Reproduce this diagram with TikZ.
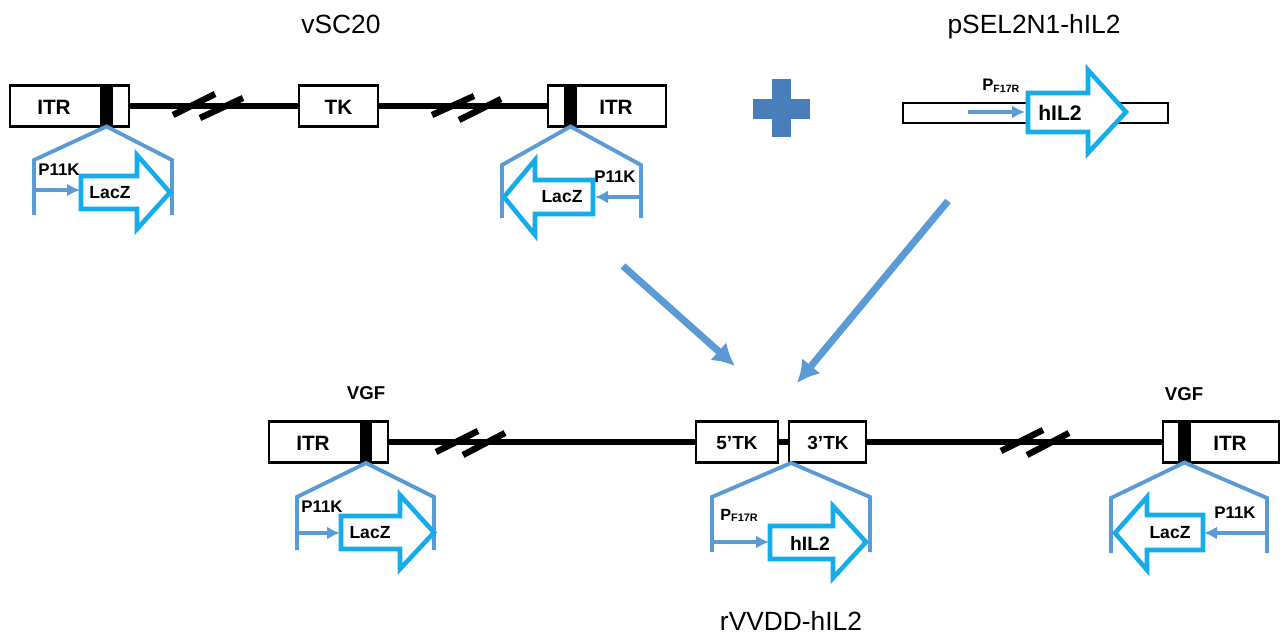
\documentclass[tikz,border=0pt]{standalone}
\usepackage{fontspec}
\setmainfont{Liberation Sans}
\usetikzlibrary{arrows.meta}
\usetikzlibrary{positioning}
\definecolor{hatblue}{RGB}{91,155,213}
\definecolor{genecyan}{RGB}{20,172,235}
\definecolor{plusblue}{RGB}{74,126,187}

\begin{document}
\begin{tikzpicture}[x=0.02cm,y=-0.02cm,
  box/.style={draw=black,line width=1.2pt,fill=white,inner sep=0pt,minimum height=0.82cm},
  dna/.style={line width=3pt},
  brk/.style={line width=3.6pt},
  hat/.style={draw=hatblue,line width=2.2pt,line join=miter},
  prom/.style={draw=hatblue,line width=2pt,-{Latex[length=0.26cm,width=0.26cm]}},
  gene/.style={draw=genecyan,line width=2.6pt,fill=white,line join=miter},
  big/.style={draw=hatblue,line width=4pt,-{Latex[length=0.44cm,width=0.48cm]}},
  lbl/.style={inner sep=0pt,font=\bfseries\fontsize{9.6}{10}\selectfont},
  glbl/.style={inner sep=0pt,font=\bfseries\fontsize{10}{11}\selectfont},
  boxlbl/.style={inner sep=0pt,font=\bfseries\fontsize{11.8}{13}\selectfont},
  title/.style={inner sep=0pt,anchor=base,font=\fontsize{15}{17}\selectfont}]
\useasboundingbox (0,0) rectangle (1282,635);

% titles
\node[title] (tvsc) at (341,34) {vSC20};
\node[title] (tpsel) at (1034,34) {pSEL2N1-hIL2};
\node[title] (trvv) at (791,630) {rVVDD-hIL2};

% vSC20
\node[box,minimum width=2.38cm] (itrA) at (69.5,106) {};
\node[box,minimum width=1.58cm] (tkA) at (338.5,106) {};
\node[box,minimum width=2.36cm] (itrB) at (607,106) {};
\draw[dna] (itrA.east) -- (tkA.west);
\draw[dna] (tkA.east) -- (itrB.west);
\fill[black] (100,86.5) rectangle (113,125.5);
\fill[black] (564,86.5) rectangle (577,125.5);
\draw[brk] (173,115) -- (215,94);
\draw[brk] (200,118) -- (243,98);
\draw[brk] (432,115) -- (474,96);
\draw[brk] (459,120) -- (501,99);
\node[boxlbl] (itrAt) at (54,107) {ITR};
\node[boxlbl] (tkAt) at (338.5,107) {TK};
\node[boxlbl] (itrBt) at (616,107) {ITR};

% LacZ cassettes, top
\draw[hat] (34,215) -- (34,160) -- (106.5,126.5) -- (172,160) -- (172,215);
\draw[gene] (81,176) -- (137,176) -- (137,155) -- (170,192.5) -- (137,229) -- (137,209) -- (81,209) -- cycle;
\draw[prom] (34,190) -- (80,190);
\node[lbl] (pA) at (59,170) {P11K};
\node[glbl] (lacA) at (110,193) {LacZ};

\draw[hat] (502,218) -- (502,165) -- (570.5,126.5) -- (641,165) -- (641,218);
\draw[gene] (593,180) -- (535,180) -- (535,160) -- (504,197) -- (535,235) -- (535,214) -- (593,214) -- cycle;
\draw[prom] (641,197) -- (595,197);
\node[lbl] (pB) at (615,177) {P11K};
\node[glbl] (lacB) at (562,197) {LacZ};

% plus
\fill[plusblue] (772,79) rectangle (791,137);
\fill[plusblue] (753,99) rectangle (810,119);

% pSEL2N1-hIL2
\node[box,line width=1.1pt,minimum width=5.3cm,minimum height=0.4cm] (psel) at (1035.5,113) {};
\draw[prom] (968,112) -- (1025,112);
\draw[gene] (1028,93) -- (1088,93) -- (1088,70) -- (1126,112) -- (1088,153) -- (1088,132) -- (1028,132) -- cycle;
\node[inner sep=0pt,anchor=base west,font=\bfseries\fontsize{9.5}{10}\selectfont] (pfA) at (982,91) {P\raisebox{-1pt}{\fontsize{6}{7}\selectfont F17R}};
\node[inner sep=0pt,font=\bfseries\fontsize{12}{14}\selectfont] (ilA) at (1060,113) {hIL2};

% recombination
\coordinate (fromV) at (623,266);
\coordinate (toV) at (735,366);
\coordinate (fromP) at (948,201);
\coordinate (toP) at (797,383);
\draw[big] (fromV) -- (toV);
\draw[big] (fromP) -- (toP);

% rVVDD-hIL2
\node[box,minimum width=2.38cm] (itrC) at (328.5,442) {};
\node[box,minimum width=1.64cm] (tk5) at (737,442) {};
\node[box,minimum width=1.54cm] (tk3) at (827.5,442) {};
\node[box,minimum width=2.32cm] (itrD) at (1221,442) {};
\draw[dna] (itrC.east) -- (tk5.west);
\draw[dna] (tk5.east) -- (tk3.west);
\draw[dna] (tk3.east) -- (itrD.west);
\fill[black] (360,422.5) rectangle (372,461.5);
\fill[black] (1178,422.5) rectangle (1191,461.5);
\draw[brk] (436,452) -- (478,431);
\draw[brk] (463,455) -- (505,433);
\draw[brk] (1001,451) -- (1043,430);
\draw[brk] (1027,455) -- (1069,433);
\node[boxlbl] (itrCt) at (313,443) {ITR};
\node[boxlbl] (itrDt) at (1230,443) {ITR};
\node[inner sep=0pt,font=\bfseries\fontsize{10.8}{12}\selectfont] (tk5t) at (737,443) {5’TK};
\node[inner sep=0pt,font=\bfseries\fontsize{10.8}{12}\selectfont] (tk3t) at (828,443) {3’TK};
\node[inner sep=0pt,font=\bfseries\fontsize{10.6}{12}\selectfont] (vgfC) at (366,393) {VGF};
\node[inner sep=0pt,font=\bfseries\fontsize{10.6}{12}\selectfont] (vgfD) at (1184,394) {VGF};

% cassettes, bottom
\draw[hat] (297,550) -- (297,497) -- (366,463) -- (434,497) -- (434,550);
\draw[gene] (341,516) -- (400,516) -- (400,495) -- (434,532.5) -- (400,569) -- (400,549) -- (341,549) -- cycle;
\draw[prom] (297,533) -- (340,533);
\node[lbl] (pC) at (322,507) {P11K};
\node[glbl] (lacC) at (370,533) {LacZ};

\draw[hat] (712,552) -- (712,497) -- (791,463) -- (870,497) -- (870,552);
\draw[gene] (770,526) -- (833,526) -- (833,506) -- (866,542) -- (833,578) -- (833,559) -- (770,559) -- cycle;
\draw[prom] (712,542) -- (769,542);
\node[inner sep=0pt,anchor=base west,font=\bfseries\fontsize{9.2}{10}\selectfont] (pfB) at (720,520) {P\raisebox{-1pt}{\fontsize{6.2}{7}\selectfont F17R}};
\node[inner sep=0pt,font=\bfseries\fontsize{11}{12}\selectfont] (ilB) at (810,543) {hIL2};

\draw[hat] (1111,553) -- (1111,498) -- (1184.5,462.5) -- (1267,498) -- (1267,553);
\draw[gene] (1203,515) -- (1147,515) -- (1147,497) -- (1115,533) -- (1147,570) -- (1147,550) -- (1203,550) -- cycle;
\draw[prom] (1267,533) -- (1204,533);
\node[lbl] (pD) at (1235,513) {P11K};
\node[glbl] (lacD) at (1170,533) {LacZ};

\end{tikzpicture}
\end{document}
